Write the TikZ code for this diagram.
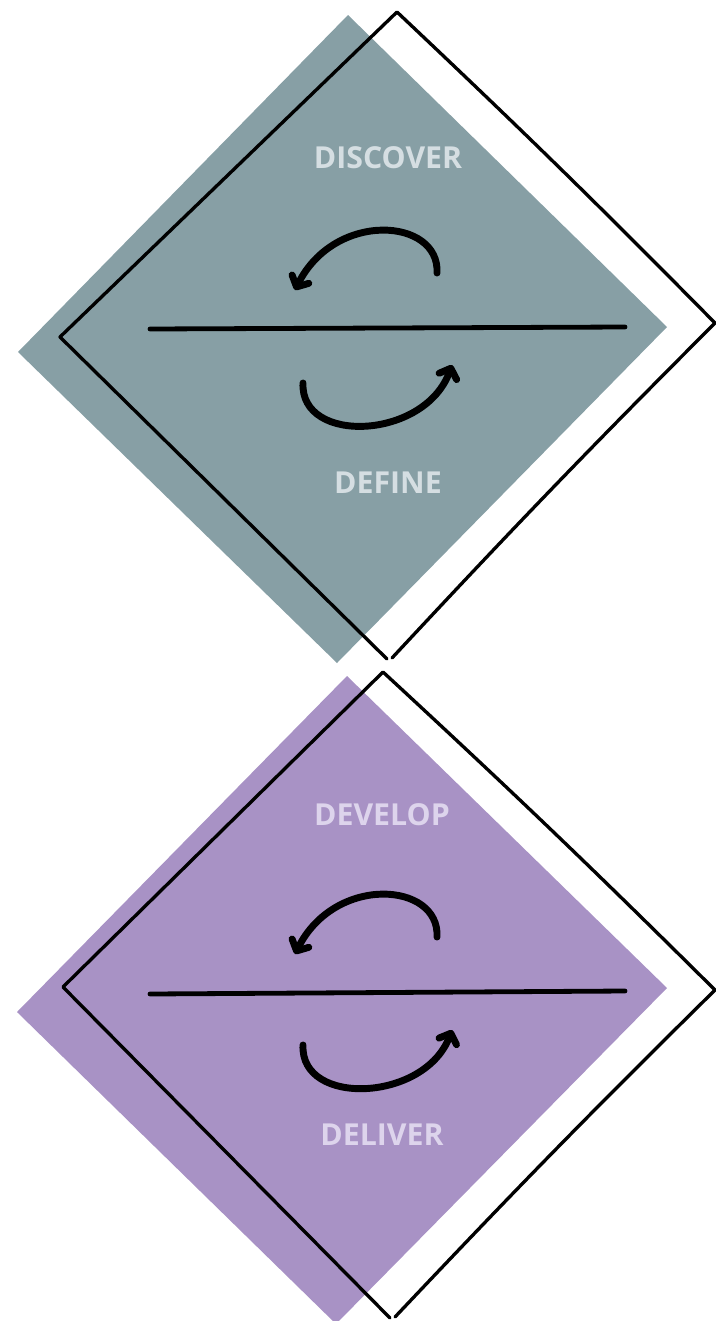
\documentclass[tikz,border=0pt]{standalone}
\usepackage{fontspec}
\setsansfont{Open Sans}
\usetikzlibrary{arrows.meta}
\definecolor{slate}{HTML}{879FA5}
\definecolor{slatetext}{HTML}{D5DEE2}
\definecolor{lilac}{HTML}{A892C5}
\definecolor{lilactext}{HTML}{DDD4EC}

\begin{document}
\begin{tikzpicture}[
  x=0.75pt, y=-0.75pt,
  outline/.style={draw=black, line width=2.5pt, line join=round, line cap=round},
  divider/.style={draw=black, line width=3.6pt, line cap=round},
  cyclearrow/.style={line width=5.2pt, line cap=round, -{Straight Barb[length=6.5pt, width=14pt, round]}},
  phase/.style={font=\sffamily\bfseries\fontsize{22.7}{26}\selectfont, text=#1, inner sep=0pt},
]
\useasboundingbox (0,0) rectangle (716,1321);
\clip (0,0) rectangle (716,1321);

% upper diamond: discover / define
\fill[slate] (348,15) -- (667,327) -- (337,663) -- (18,352) -- cycle;
\draw[outline] (387,659) -- (60,337) -- (397,12) to[bend left=1] (715,323) to[bend right=1] (392,658);
\draw[divider] (150,329) -- (625,327);
\draw[cyclearrow] (437,273) .. controls (440,218) and (335,210) .. (295,290);
\draw[cyclearrow] (303,383) .. controls (300,445) and (425,440) .. (452,365);
\node[phase=slatetext] (discover) at (388,158) {DISCOVER};
\node[phase=slatetext] (define) at (388,483) {DEFINE};

% lower diamond: develop / deliver
\fill[lilac] (347,676) -- (667,988) -- (336,1324) -- (17,1012) -- cycle;
\draw[outline] (390,1318) -- (63,987) -- (383,672) to[bend left=1] (715,990) to[bend right=1] (395,1317);
\draw[divider] (150,994) -- (625,991);
\draw[cyclearrow] (437,937) .. controls (440,882) and (335,874) .. (295,954);
\draw[cyclearrow] (303,1045) .. controls (300,1107) and (425,1102) .. (452,1030);
\node[phase=lilactext] (develop) at (382,815) {DEVELOP};
\node[phase=lilactext] (deliver) at (382,1135) {DELIVER};

\end{tikzpicture}
\end{document}
